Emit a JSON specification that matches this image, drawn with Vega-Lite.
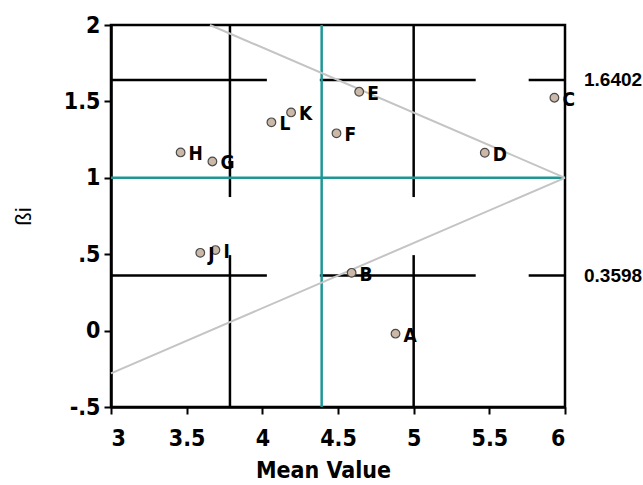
{
  "$schema": "https://vega.github.io/schema/vega-lite/v6.json",
  "width": 454,
  "height": 382,
  "autosize": {"type": "none"},
  "padding": {"left": 111, "top": 25, "right": 78, "bottom": 78},
  "background": "white",
  "view": {"stroke": "black", "strokeWidth": 2.5},
  "config": {
    "font": "DejaVu Sans Condensed, Liberation Sans, sans-serif",
    "axis": {
      "domainColor": "black",
      "domainWidth": 2.5,
      "tickColor": "black",
      "tickWidth": 2,
      "tickSize": 7,
      "grid": false,
      "labelFont": "DejaVu Sans Condensed, Liberation Sans, sans-serif",
      "labelFontWeight": "bold",
      "labelFontSize": 23,
      "labelColor": "black",
      "titleColor": "black"
    }
  },
  "datasets": {
    "segs": [
      {"x": 3, "x2": 4.03, "y": 1.6402, "y2": 1.6402},
      {"x": 4.38, "x2": 5.41, "y": 1.6402, "y2": 1.6402},
      {"x": 5.76, "x2": 6, "y": 1.6402, "y2": 1.6402},
      {"x": 3, "x2": 4.03, "y": 0.3598, "y2": 0.3598},
      {"x": 4.38, "x2": 5.41, "y": 0.3598, "y2": 0.3598},
      {"x": 5.76, "x2": 6, "y": 0.3598, "y2": 0.3598},
      {"x": 3.786, "x2": 3.786, "y": 2, "y2": 0.874},
      {"x": 3.786, "x2": 3.786, "y": 0.494, "y2": -0.5},
      {"x": 5, "x2": 5, "y": 2, "y2": 0.874},
      {"x": 5, "x2": 5, "y": 0.494, "y2": -0.5}
    ],
    "teal": [
      {"x": 4.392, "x2": 4.392, "y": 2, "y2": -0.5},
      {"x": 3, "x2": 6, "y": 1, "y2": 1}
    ],
    "gray": [
      {"x": 3.654, "x2": 6, "y": 2, "y2": 1},
      {"x": 3, "x2": 6, "y": -0.28, "y2": 1}
    ],
    "pts": [
      {"name": "A", "mean": 4.88, "beta": -0.02},
      {"name": "B", "mean": 4.59, "beta": 0.378},
      {"name": "C", "mean": 5.93, "beta": 1.524},
      {"name": "D", "mean": 5.47, "beta": 1.164},
      {"name": "E", "mean": 4.64, "beta": 1.563},
      {"name": "F", "mean": 4.49, "beta": 1.291},
      {"name": "G", "mean": 3.67, "beta": 1.107},
      {"name": "H", "mean": 3.46, "beta": 1.166},
      {"name": "I", "mean": 3.69, "beta": 0.527},
      {"name": "J", "mean": 3.59, "beta": 0.509},
      {"name": "K", "mean": 4.19, "beta": 1.428},
      {"name": "L", "mean": 4.06, "beta": 1.363}
    ],
    "side": [
      {"mean": 6, "beta": 1.6402, "lab": "1.6402"},
      {"mean": 6, "beta": 0.3598, "lab": "0.3598"}
    ]
  },
  "layer": [
    {
      "data": {"name": "segs"},
      "mark": {"type": "rule", "color": "black", "strokeWidth": 2.5},
      "encoding": {
        "x": {"field": "x", "type": "quantitative", "scale": {"domain": [3, 6], "nice": false},
          "axis": {"values": [3, 3.5, 4, 4.5, 5, 5.5, 6], "format": "~g", "title": "Mean Value", "titleFont": "DejaVu Sans Condensed, Liberation Sans, sans-serif", "titleFontWeight": "bold", "titleFontSize": 23, "labelPadding": 13, "titlePadding": 9, "titleX": 212}},
        "x2": {"field": "x2"},
        "y": {"field": "y", "type": "quantitative", "scale": {"domain": [-0.5, 2], "nice": false},
          "axis": {"values": [-0.5, 0, 0.5, 1, 1.5, 2], "format": "~g", "title": "ßi", "titleFont": "Liberation Sans", "titleFontWeight": "normal", "titleFontSize": 22, "labelPadding": 4, "titlePadding": 28,
            "labelExpr": "datum.value == 0.5 ? '.5' : datum.value == -0.5 ? '-.5' : datum.label"}},
        "y2": {"field": "y2"}
      }
    },
    {
      "data": {"name": "teal"},
      "mark": {"type": "rule", "color": "#1f9696", "strokeWidth": 2.5},
      "encoding": {
        "x": {"field": "x", "type": "quantitative"},
        "x2": {"field": "x2"},
        "y": {"field": "y", "type": "quantitative"},
        "y2": {"field": "y2"}
      }
    },
    {
      "data": {"name": "gray"},
      "mark": {"type": "rule", "color": "#c4c4c4", "strokeWidth": 2},
      "encoding": {
        "x": {"field": "x", "type": "quantitative"},
        "x2": {"field": "x2"},
        "y": {"field": "y", "type": "quantitative"},
        "y2": {"field": "y2"}
      }
    },
    {
      "data": {"name": "pts"},
      "mark": {"type": "point", "shape": "circle", "filled": true, "size": 75, "fill": "#cbb8a6", "stroke": "#4a4a4a", "strokeWidth": 1.2, "opacity": 1},
      "encoding": {
        "x": {"field": "mean", "type": "quantitative"},
        "y": {"field": "beta", "type": "quantitative"}
      }
    },
    {
      "data": {"name": "pts"},
      "mark": {"type": "text", "align": "left", "baseline": "middle", "dx": 8, "dy": 2, "font": "DejaVu Sans Condensed, Liberation Sans, sans-serif", "fontWeight": "bold", "fontSize": 19, "color": "black"},
      "encoding": {
        "x": {"field": "mean", "type": "quantitative"},
        "y": {"field": "beta", "type": "quantitative"},
        "text": {"field": "name"}
      }
    },
    {
      "data": {"name": "side"},
      "mark": {"type": "text", "align": "left", "baseline": "middle", "dx": 19, "dy": 0, "font": "Liberation Sans", "fontWeight": "bold", "fontSize": 19, "color": "black"},
      "encoding": {
        "x": {"field": "mean", "type": "quantitative"},
        "y": {"field": "beta", "type": "quantitative"},
        "text": {"field": "lab"}
      }
    }
  ]
}
